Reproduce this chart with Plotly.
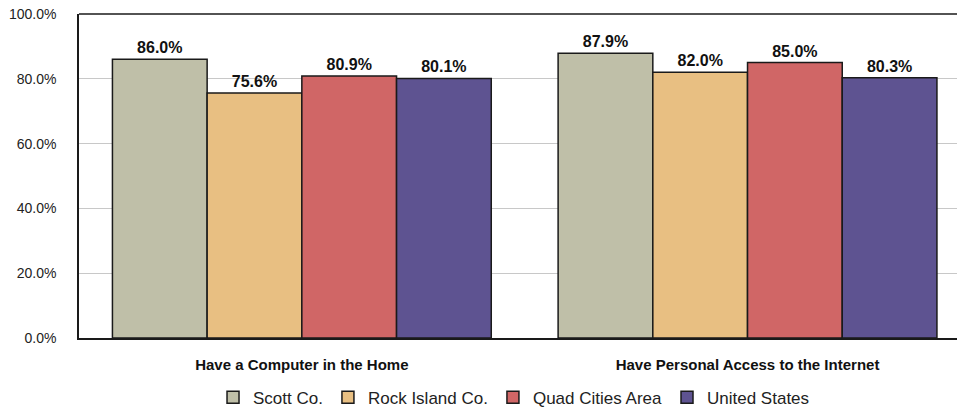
import plotly.graph_objects as go

categories = ["Have a Computer in the Home", "Have Personal Access to the Internet"]
series_names = ["Scott Co.", "Rock Island Co.", "Quad Cities Area", "United States"]
scott = [86.0, 87.9]
rock_island = [75.6, 82.0]
quad_cities = [80.9, 85.0]
united_states = [80.1, 80.3]
colors = ["#BFBFA8", "#E8BF82", "#D06666", "#5E5391"]
y_ticks = [0, 20, 40, 60, 80, 100]

values = [scott, rock_island, quad_cities, united_states]
FONT = "Liberation Sans, Arial"

fig = go.Figure()
for name, vals, col in zip(series_names, values, colors):
    fig.add_trace(go.Bar(
        x=list(range(len(categories))), y=vals, name=name,
        marker=dict(color=col, line=dict(color="#1a1a1a", width=1.5)),
        text=[f"<b>{v:.1f}%</b>" for v in vals],
        textposition="outside",
        textfont=dict(size=16, color="#111", family=FONT),
        cliponaxis=False,
    ))

fig.update_layout(
    width=959, height=410,
    margin=dict(l=79, r=2, t=14, b=72, autoexpand=False),
    plot_bgcolor="white", paper_bgcolor="white",
    barmode="group", bargap=0.15, bargroupgap=0,
    font=dict(family=FONT, size=14, color="#222"),
    showlegend=True,
    legend=dict(orientation="h", xref="container", yref="container",
                x=0.536, xanchor="center", y=0.03, yanchor="middle",
                font=dict(size=17, color="#222"), traceorder="normal",
                itemwidth=30),
    xaxis=dict(range=[-0.5, 1.47], tickmode="array",
               tickvals=list(range(len(categories))),
               ticktext=[f"<b>{c}</b>" for c in categories],
               tickfont=dict(size=15, color="#111"), automargin=False,
               ticklabelstandoff=12,
               showline=True, linecolor="#1a1a1a", linewidth=1.5,
               ticks="", showgrid=False, zeroline=False),
    yaxis=dict(range=[0, 100], tickmode="array", tickvals=y_ticks,
               ticktext=[f"{v:.1f}%" for v in y_ticks],
               tickfont=dict(size=14, color="#222"), automargin=False,
               ticklabelstandoff=18,
               showgrid=True, gridcolor="#c8c8c8", gridwidth=1,
               showline=True, linecolor="#1a1a1a", linewidth=1.5,
               zeroline=False, ticks="", ticklen=0),
)
fig.add_shape(type="line", xref="paper", yref="paper", x0=0, x1=1, y0=1, y1=1,
              line=dict(color="#1a1a1a", width=1.5))

fig.write_html("out.html", config={"displayModeBar": False},
               post_script="document.body.style.margin='0px';")
